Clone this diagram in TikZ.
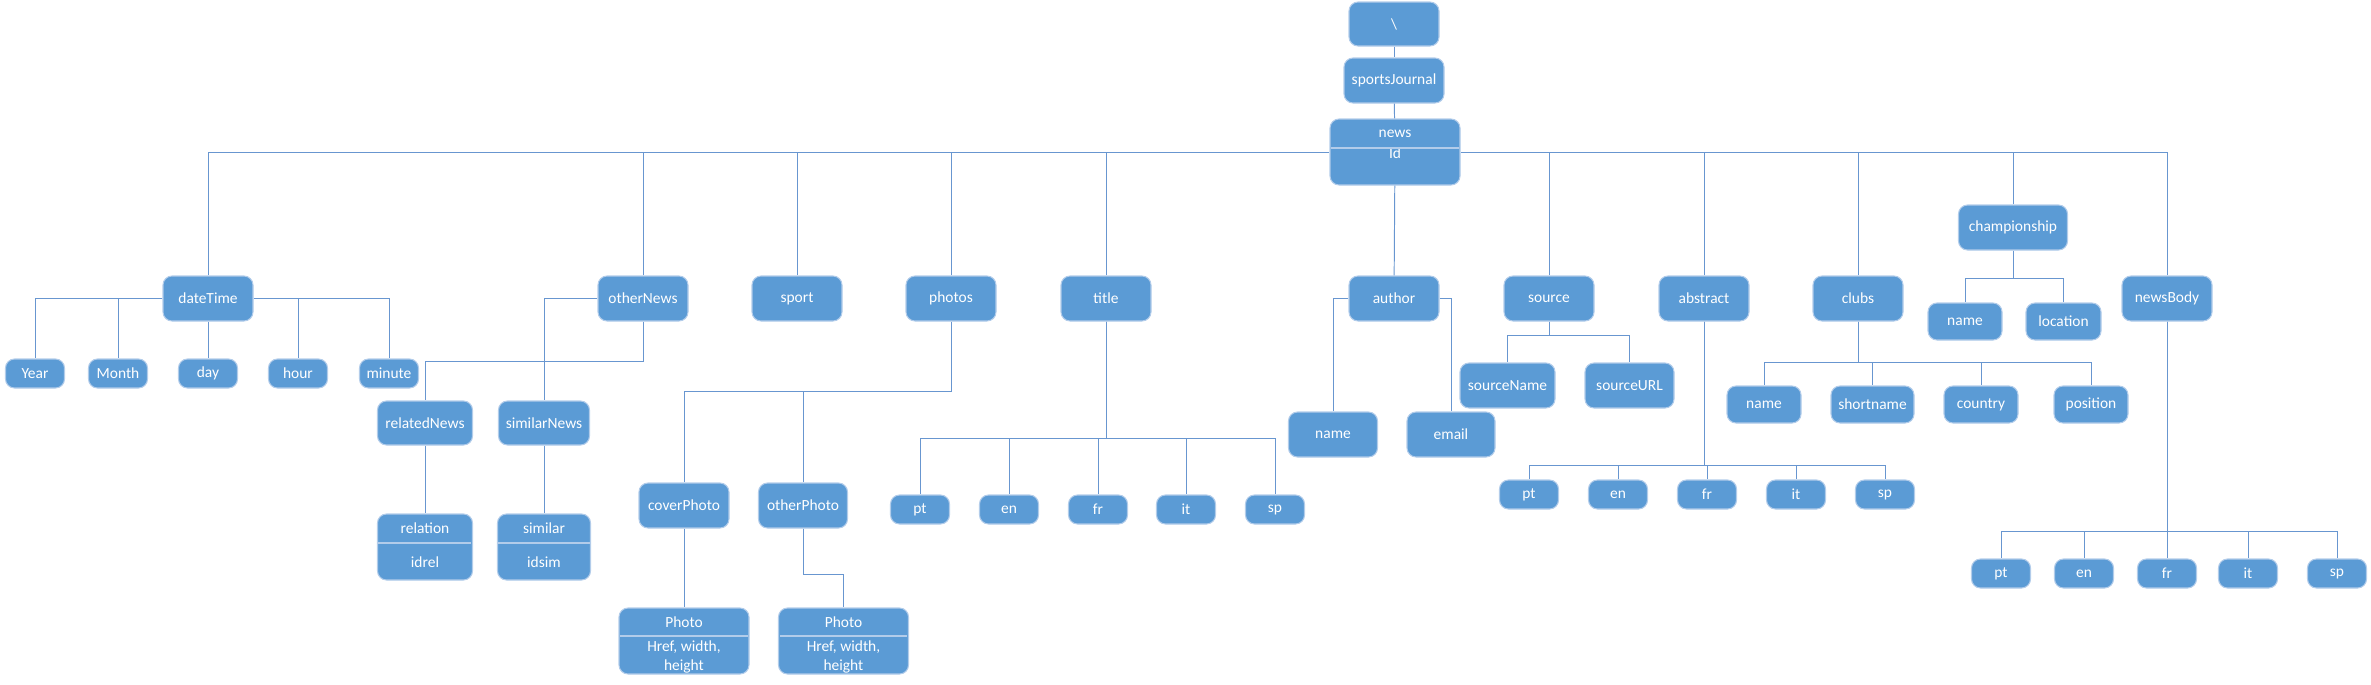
\documentclass[tikz,border=0pt]{standalone}
\usepackage{fontspec}
\setmainfont{Carlito}
\definecolor{boxblue}{RGB}{91,155,213}
\definecolor{edgeblue}{RGB}{178,204,234}
\definecolor{lineblue}{RGB}{104,150,208}
\tikzset{
  sz/.style 2 args={minimum width=#1*0.02cm,minimum height=#2*0.02cm},
  box/.style={draw=edgeblue,line width=0.6pt,fill=boxblue,rounded corners=0.18cm,
    text=white,font=\fontsize{8.8}{10.8}\selectfont,inner sep=0pt,align=center},
  part/.style={text=white,font=\fontsize{8.8}{10.8}\selectfont,inner sep=0pt,align=center},
  link/.style={draw=lineblue,line width=0.55pt},
  divider/.style={draw=edgeblue,line width=0.8pt}
}

\begin{document}
\begin{tikzpicture}[x=0.02cm,y=-0.02cm]
\useasboundingbox (0,0) rectangle (2371,684);
% top of the tree
\node[box,sz={90}{44}] (root) at (1394,24) {\textbackslash};
\node[box,sz={100}{45}] (journal) at (1394,80.5) {sportsJournal};
\node[box,sz={130}{66}] (news) at (1395,152) {};
\node[part] (newsName) at (1395,134) {news};
\node[part] (newsId) at (1395,153) {Id};
\draw[divider] (1331,148) -- (1459,148);

% children of news
\foreach \n/\x in {dateTime/208,otherNews/643,sport/797,photos/951,title/1106,author/1394,source/1549,abstract/1704,clubs/1858,newsBody/2167}
  \node[box,sz={90}{45}] (\n) at (\x,298.5) {\n};
\node[box,sz={109}{45}] (championship) at (2013,227.5) {championship};

\draw[link] (root) -- (journal);
\draw[link] (journal) -- (news);
\draw[link] (news) -- (author);
\draw[link] (dateTime.north) |- (news.west);
\draw[link] (newsBody.north) |- (news.east);
\foreach \n in {otherNews,sport,photos,title,source,abstract,clubs,championship}
  \draw[link] (\n.north) -- (\n.north |- news.west);

% dateTime
\foreach \n/\x in {Year/35,Month/118,day/208,hour/298,minute/389}
  \node[box,sz={59}{29}] (\n) at (\x,373.5) {\n};
\draw[link] (dateTime.west) -| (Year.north);
\draw[link] (dateTime.west) -| (Month.north);
\draw[link] (dateTime) -- (day);
\draw[link] (dateTime.east) -| (hour.north);
\draw[link] (dateTime.east) -| (minute.north);

% otherNews
\node[box,sz={95}{44}] (relatedNews) at (425,423) {relatedNews};
\node[box,sz={91}{44}] (similarNews) at (544,423) {similarNews};
\node[box,sz={95}{66}] (relation) at (425,547) {};
\node[part] (relationTop) at (425,528) {relation};
\node[part] (relationId) at (425,562) {idrel};
\draw[divider] (378,543) -- (471,543);
\node[box,sz={93}{66}] (similar) at (544,547) {};
\node[part] (similarTop) at (544,528) {similar};
\node[part] (similarId) at (544,562) {idsim};
\draw[divider] (498,543) -- (590,543);
\draw[link] (otherNews.west) -| (similarNews.north);
\draw[link] (otherNews.south) -- ++(0,40) -| (relatedNews.north);
\draw[link] (relatedNews) -- (relation);
\draw[link] (similarNews) -- (similar);

% photos
\node[box,sz={90}{45}] (coverPhoto) at (684,505.5) {coverPhoto};
\node[box,sz={89}{45}] (otherPhoto) at (803,505.5) {otherPhoto};
\node[box,sz={130}{66}] (coverImg) at (684,641) {};
\node[part] (coverImgTop) at (684,622) {Photo};
\node[part] (coverImgAttr) at (684,656.5) {Href, width,\\height};
\draw[divider] (620,636) -- (748,636);
\node[box,sz={130}{66}] (otherImg) at (843.5,641) {};
\node[part] (otherImgTop) at (843.5,622) {Photo};
\node[part] (otherImgAttr) at (843.5,656.5) {Href, width,\\height};
\draw[divider] (780,636) -- (907,636);
\draw[link] (photos.south) -- ++(0,70) -| (coverPhoto.north);
\draw[link] (photos.south) -- ++(0,70) -| (otherPhoto.north);
\draw[link] (coverPhoto) -- (coverImg);
\draw[link] (otherPhoto.south) -- ++(0,46) -| (otherImg.north);

% title
\foreach \l/\x in {pt/920,en/1009,fr/1098,it/1186,sp/1275}{
  \node[box,sz={59}{29}] (title-\l) at (\x,509.5) {\l};
  \draw[link] (title.south) -- ++(0,117) -| (title-\l.north);
}

% author
\node[box,sz={89}{45}] (authorName) at (1333,434.5) {name};
\node[box,sz={88}{45}] (email) at (1451,434.5) {email};
\draw[link] (author.west) -| (authorName.north);
\draw[link] (author.east) -| (email.north);

% source
\node[box,sz={95}{45}] (sourceName) at (1507.5,385.5) {sourceName};
\node[box,sz={89}{45}] (sourceURL) at (1629.5,385.5) {sourceURL};
\draw[link] (source.south) -- ++(0,14) -| (sourceName.north);
\draw[link] (source.south) -- ++(0,14) -| (sourceURL.north);

% abstract
\foreach \l/\x in {pt/1529,en/1618,fr/1707,it/1796,sp/1885}{
  \node[box,sz={59}{29}] (abstract-\l) at (\x,494.5) {\l};
  \draw[link] (abstract.south) -- ++(0,144) -| (abstract-\l.north);
}

% clubs
\foreach \n/\t/\x/\w in {clubName/name/1764/74,shortname/shortname/1872.5/83,country/country/1981/74,position/position/2091/74}{
  \node[box,sz={\w}{37}] (\n) at (\x,404.5) {\t};
  \draw[link] (clubs.south) -- ++(0,41) -| (\n.north);
}

% championship
\node[box,sz={74}{37}] (champName) at (1965,321.5) {name};
\node[box,sz={75}{37}] (location) at (2063.5,321.5) {location};
\draw[link] (championship.south) -- ++(0,28) -| (champName.north);
\draw[link] (championship.south) -- ++(0,28) -| (location.north);

% newsBody
\foreach \l/\x in {pt/2001,en/2084,fr/2167,it/2248,sp/2337}{
  \node[box,sz={59}{29}] (body-\l) at (\x,573.5) {\l};
  \draw[link] (newsBody.south) -- ++(0,210) -| (body-\l.north);
}
\end{tikzpicture}
\end{document}
